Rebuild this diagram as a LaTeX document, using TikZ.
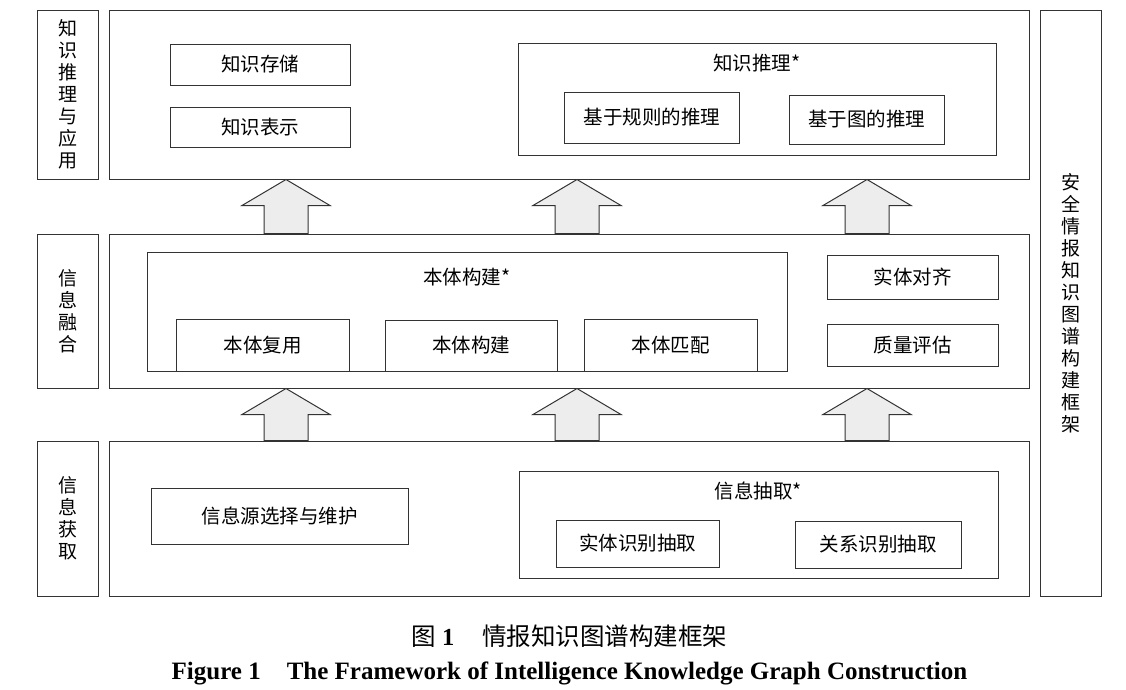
\documentclass[tikz,border=0pt]{standalone}
\usepackage{fontspec}
\setmainfont{Liberation Serif}
\newfontfamily\cjk{Noto Sans CJK SC}
\usetikzlibrary{calc}

\tikzset{
  frame/.style={draw=black!80, line width=1pt, inner sep=0pt},
  item/.style={frame, font=\cjk\fontsize{19.5}{22}\selectfont},
  title/.style={inner sep=0pt, font=\cjk\fontsize{19.5}{22}\selectfont},
  vlabel/.style={frame, align=center, font=\cjk\fontsize{19}{22}\selectfont},
  blockarr/.style={draw=black!80, line width=1pt, fill=black!7, line join=miter},
}

\begin{document}
\begin{tikzpicture}[x=1pt,y=-1pt]
    \useasboundingbox (0,0) rectangle (1126,689);
        % layer names
        \node[vlabel, minimum width=61, minimum height=169] (lapp) at (67.5,94.5) {知\\识\\推\\理\\与\\应\\用};
        \node[vlabel, minimum width=61, minimum height=154] (lfus) at (67.5,311) {信\\息\\融\\合};
        \node[vlabel, minimum width=61, minimum height=155] (lacq) at (67.5,518.5) {信\\息\\获\\取};
        \node[vlabel, minimum width=61, minimum height=586] (lall) at (1070.5,303) {安\\全\\情\\报\\知\\识\\图\\谱\\构\\建\\框\\架};
        % layers
        \node[frame, minimum width=920, minimum height=169] (app) at (569,94.5) {};
        \node[frame, minimum width=920, minimum height=154] (fus) at (569,311) {};
        \node[frame, minimum width=920, minimum height=155] (acq) at (569,518.5) {};
        % knowledge reasoning and application
        \node[item, minimum width=180, minimum height=41] (store) at (260,64.5) {知识存储};
        \node[item, minimum width=180, minimum height=40] (repr) at (260,127) {知识表示};
        \node[frame, minimum width=478, minimum height=112] (reason) at (757,99) {};
        \node[title] (reasont) at (757,63) {知识推理*};
        \node[item, minimum width=175, minimum height=51] (rule) at (652,117.5) {基于规则的推理};
        \node[item, minimum width=155, minimum height=49] (graph) at (866.5,119.5) {基于图的推理};
        % information fusion
        \node[frame, minimum width=640, minimum height=119] (onto) at (467,311.5) {};
        \node[title] (ontot) at (467,277) {本体构建*};
        \node[item, minimum width=173, minimum height=52] (reuse) at (262.5,345) {本体复用};
        \node[item, minimum width=172, minimum height=51] (build) at (471,345.5) {本体构建};
        \node[item, minimum width=173, minimum height=52] (match) at (670.5,345) {本体匹配};
        \node[item, minimum width=171, minimum height=44] (align) at (912.5,277) {实体对齐};
        \node[item, minimum width=171, minimum height=42] (qual) at (912.5,345) {质量评估};
        % information acquisition
        \node[item, minimum width=257, minimum height=56] (src) at (279.5,516) {信息源选择与维护};
        \node[frame, minimum width=479, minimum height=107] (extr) at (758.5,524.5) {};
        \node[title] (extrt) at (758.5,491) {信息抽取*};
        \node[item, minimum width=163, minimum height=47] (ent) at (637.5,543.5) {实体识别抽取};
        \node[item, minimum width=166, minimum height=47] (rel) at (878,544.5) {关系识别抽取};
        % block arrows between layers
        \coordinate (a1) at (286,0);
        \coordinate (a2) at (577,0);
        \coordinate (a3) at (867,0);
        \foreach \a in {a1,a2,a3}{
            \draw[blockarr] (\a |- app.south) -- ++(44,26) -- ++(-22,0) |- (\a |- fus.north)
                -| ($(\a |- app.south)+(-22,26)$) -- ++(-22,0) -- cycle;
            \draw[blockarr] (\a |- fus.south) -- ++(44,26) -- ++(-22,0) |- (\a |- acq.north)
                -| ($(\a |- fus.south)+(-22,26)$) -- ++(-22,0) -- cycle;
        }
        % caption
        \node[inner sep=0pt] (capzh) at (569.5,636) {\fontsize{24.5}{26}\selectfont{\cjk 图}\hspace{6pt}\textbf{1}\hspace{28pt}{\cjk 情报知识图谱构建框架}};
        \node[inner sep=0pt] (capen) at (569.5,673) {\fontsize{25}{27}\selectfont\bfseries Figure 1\hspace{26pt}The Framework of Intelligence Knowledge Graph Construction};
    \end{tikzpicture}
\end{document}
